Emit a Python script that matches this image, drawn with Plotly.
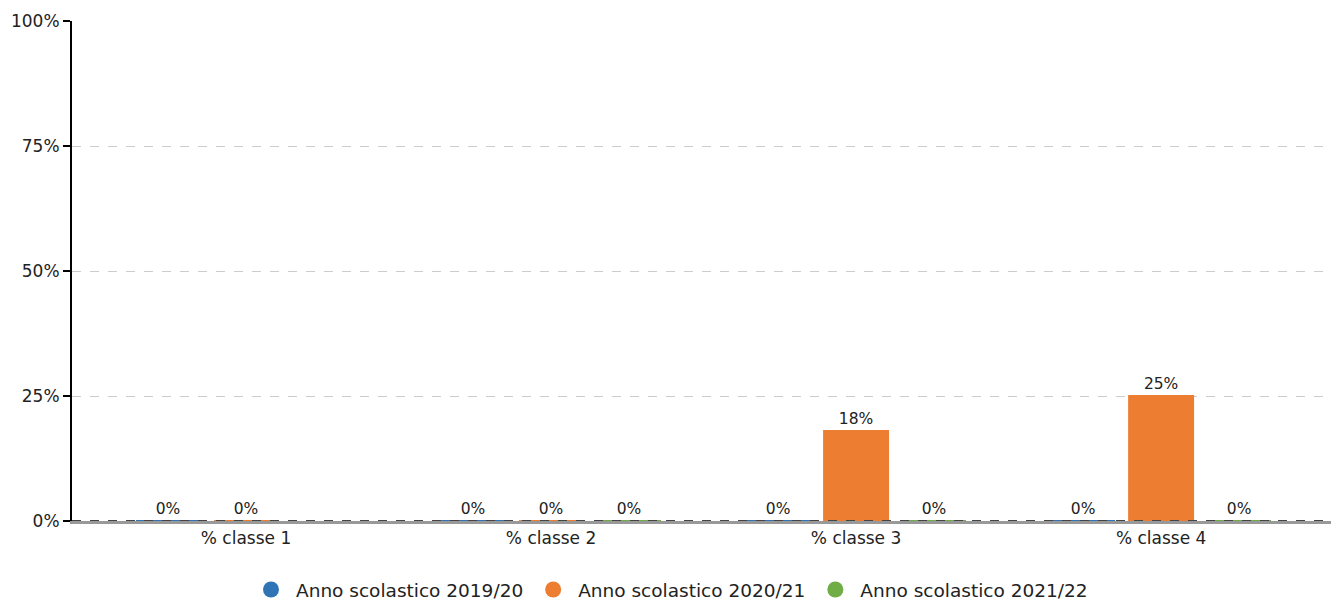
import plotly.graph_objects as go

categories = ["% classe 1", "% classe 2", "% classe 3", "% classe 4"]
series_names = ["Anno scolastico 2019/20", "Anno scolastico 2020/21", "Anno scolastico 2021/22"]
values_2019 = [0, 0, 0, 0]
values_2020 = [0, 0, 18, 25]
values_2021 = [None, 0, 0, 0]
colors = ["#2f75b5", "#ed7d31", "#70ad47"]
y_ticks = [0, 25, 50, 75, 100]
y_tick_labels = ["0%", "25%", "50%", "75%", "100%"]

FONT = "DejaVu Sans"
fig = go.Figure()
for name, vals, col in zip(series_names, [values_2019, values_2020, values_2021], colors):
    fig.add_trace(go.Bar(
        x=categories, y=vals, name=name, showlegend=False,
        marker=dict(color=col, line=dict(color=col, width=2)),
        text=[None if v is None else f"{v}%" for v in vals],
        textposition="outside", cliponaxis=False,
        textfont=dict(family=FONT, size=15.5, color="#222"),
    ))
for name, col in zip(series_names, colors):
    fig.add_trace(go.Scatter(
        x=[None], y=[None], mode="markers", name=name,
        marker=dict(symbol="circle", size=26, color=col),
    ))

fig.add_shape(type="line", xref="paper", yref="y", x0=0, x1=1, y0=0, y1=0,
              line=dict(color="#444", width=2, dash="dash"), layer="above")

fig.update_layout(
    width=1323, height=596,
    margin=dict(l=64, r=0, t=13, b=83, autoexpand=False),
    plot_bgcolor="white", paper_bgcolor="white",
    barmode="group", bargap=0.233, bargroupgap=0.18,
    font=dict(family=FONT, size=17, color="#222"),
    legend=dict(orientation="h", x=0.5, xanchor="center", xref="container",
                y=14 / 596, yanchor="middle", yref="container", itemwidth=40,
                font=dict(family=FONT, size=18.5, color="#222"), itemsizing="trace"),
    xaxis=dict(range=[-0.5705, 3.557], showline=True, linecolor="#999", linewidth=3,
               ticks="", showgrid=False, automargin=False,
               tickfont=dict(family=FONT, size=17)),
    yaxis=dict(range=[0, 100], tickvals=y_ticks, ticktext=y_tick_labels,
               showline=True, linecolor="black", linewidth=2, ticks="outside",
               ticklen=7, tickwidth=2, tickcolor="black", automargin=False,
               showgrid=True, gridcolor="#cccccc", griddash="dash", gridwidth=1,
               zeroline=False, tickfont=dict(family=FONT, size=17)),
)
fig.write_html("out.html")
